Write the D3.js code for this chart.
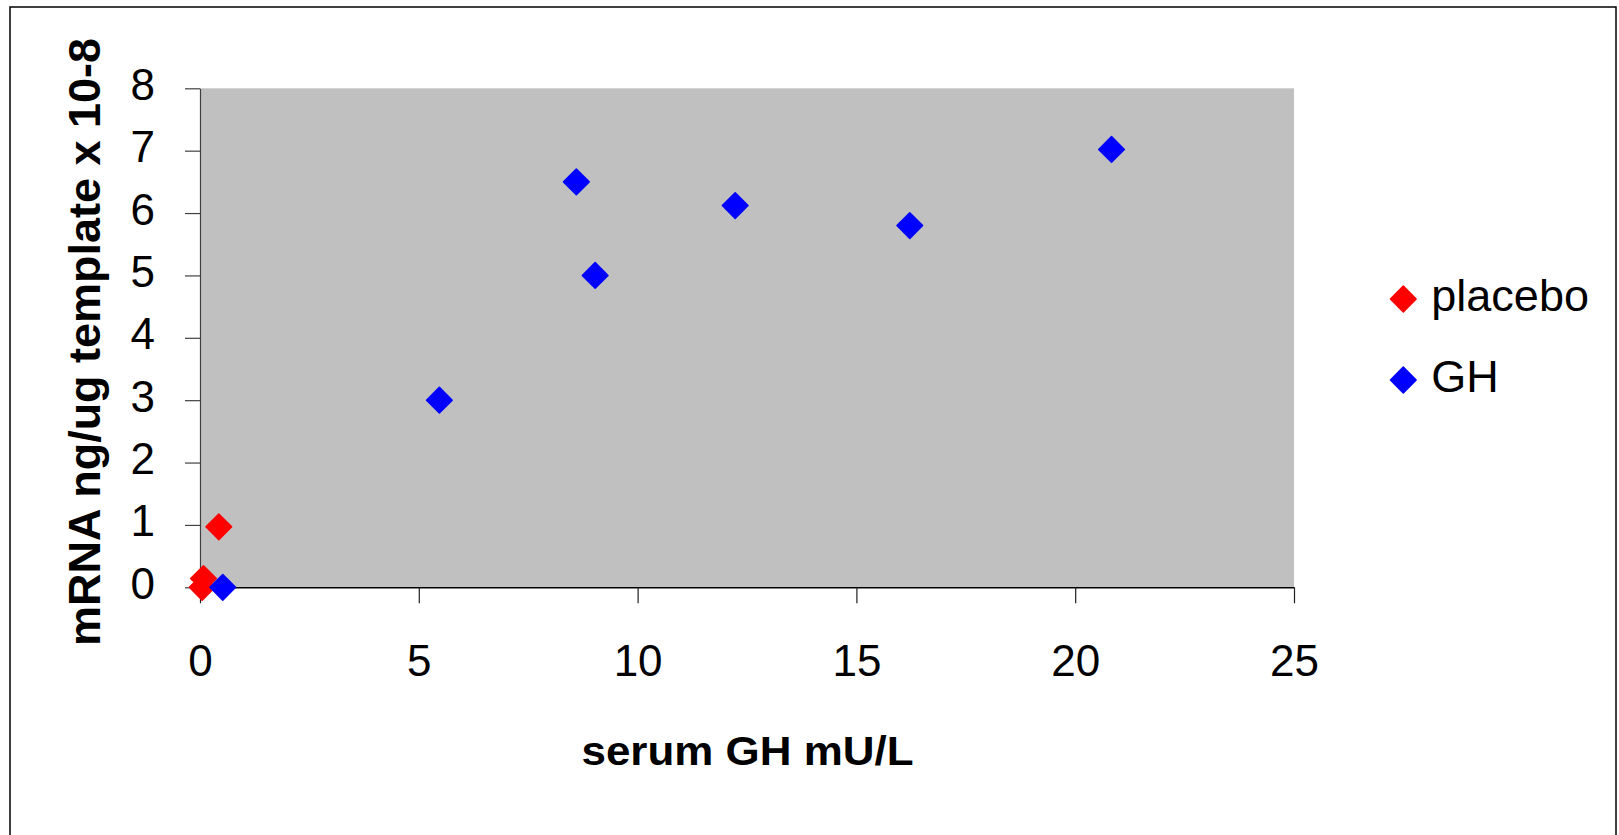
<!DOCTYPE html>
<html>
<head>
<meta charset="utf-8">
<script src="https://cdn.jsdelivr.net/npm/d3@7/dist/d3.min.js"></script>
<style>
  html, body { margin: 0; padding: 0; background: #fff; }
  svg { display: block; font-family: "Liberation Sans", Arial, sans-serif; }
</style>
</head>
<body>
<svg id="chart" width="1619" height="835"></svg>
<script>
// ---- data ----
const seriesNames = ["placebo", "GH"];
const seriesColors = ["#ff0000", "#0000ff"];
const placeboX = [0.05, 0.08, 0.43];
const placeboY = [0.0, 0.14, 0.97];
const ghX = [0.52, 5.47, 8.6, 9.03, 12.23, 16.22, 20.83];
const ghY = [0.0, 3.0, 6.5, 5.0, 6.12, 5.8, 7.02];
const xTicks = [0, 5, 10, 15, 20, 25];
const yTicks = [0, 1, 2, 3, 4, 5, 6, 7, 8];
const xTitle = "serum GH mU/L";
const yTitle = "mRNA ng/ug template x 10-8";

// ---- layout ----
const svg = d3.select("#chart");
const plot = { left: 200, right: 1294, top: 88.3, bottom: 587.3 };

const x = d3.scaleLinear().domain([0, 25]).range([plot.left, plot.right]);
const y = d3.scaleLinear().domain([0, 8]).range([plot.bottom, plot.top]);

// outer frame
svg.append("rect")
  .attr("x", 10).attr("y", 7).attr("width", 1606).attr("height", 840)
  .attr("fill", "none").attr("stroke", "#000").attr("stroke-width", 1.5);

// plot area
svg.append("rect")
  .attr("x", plot.left).attr("y", plot.top)
  .attr("width", plot.right - plot.left).attr("height", plot.bottom - plot.top)
  .attr("fill", "#c0c0c0");

// y axis
const yAxis = svg.append("g").attr("transform", `translate(${plot.left},0)`)
  .call(d3.axisLeft(y).tickValues(yTicks).tickSize(15).tickSizeOuter(0).tickFormat(d3.format("d")));
yAxis.select(".domain").attr("stroke", "#404040").attr("stroke-width", 1.2);
yAxis.selectAll(".tick line").attr("stroke", "#404040").attr("stroke-width", 1.2);
yAxis.selectAll(".tick text")
  .attr("x", -45).attr("dy", "0.25em")
  .attr("fill", "#000")
  .style("font-size", "44px")
  .style("font-family", "'Liberation Sans', Arial, sans-serif");

// x axis
const xAxis = svg.append("g").attr("transform", `translate(0,${plot.bottom})`)
  .call(d3.axisBottom(x).tickValues(xTicks).tickSize(16).tickSizeOuter(0).tickFormat(d3.format("d")));
xAxis.select(".domain").attr("stroke", "#000").attr("stroke-width", 1.5);
xAxis.selectAll(".tick line").attr("stroke", "#202020").attr("stroke-width", 1.2);
xAxis.selectAll(".tick text")
  .attr("y", 89).attr("dy", 0)
  .attr("fill", "#000")
  .style("font-size", "44px")
  .style("font-family", "'Liberation Sans', Arial, sans-serif");

// axis titles
svg.append("text")
  .attr("x", 747.5).attr("y", 765)
  .attr("text-anchor", "middle")
  .attr("font-weight", "bold")
  .attr("font-size", 40)
  .attr("textLength", 332).attr("lengthAdjust", "spacingAndGlyphs")
  .text(xTitle);

svg.append("text")
  .attr("transform", "translate(100,342) rotate(-90)")
  .attr("text-anchor", "middle")
  .attr("font-weight", "bold")
  .attr("font-size", 44)
  .attr("textLength", 608).attr("lengthAdjust", "spacingAndGlyphs")
  .text(yTitle);

// markers
const diamond = d3.symbol().type(d3.symbolSquare).size(330);
const series = [
  { name: seriesNames[0], color: seriesColors[0], xs: placeboX, ys: placeboY },
  { name: seriesNames[1], color: seriesColors[1], xs: ghX, ys: ghY }
];

series.forEach(s => {
  svg.append("g").selectAll("path")
    .data(s.xs.map((v, i) => [v, s.ys[i]]))
    .join("path")
    .attr("d", diamond)
    .attr("transform", d => `translate(${x(d[0])},${y(d[1])}) rotate(45)`)
    .attr("fill", s.color)
    .attr("stroke", s.color)
    .attr("stroke-width", 1.5)
    .attr("stroke-linejoin", "round");
});

// legend
const legend = svg.append("g");
const legendY = d3.scaleOrdinal().domain(seriesNames).range([299, 380]);
series.forEach(s => {
  const g = legend.append("g").attr("transform", `translate(1403.3,${legendY(s.name)})`);
  g.append("path")
    .attr("d", diamond)
    .attr("transform", "rotate(45)")
    .attr("fill", s.color)
    .attr("stroke", s.color)
    .attr("stroke-width", 1.5)
    .attr("stroke-linejoin", "round");
  g.append("text")
    .attr("x", 28).attr("y", 0).attr("dy", "0.27em")
    .attr("font-size", 45)
    .attr("fill", "#000")
    .text(s.name);
});
</script>
</body>
</html>
